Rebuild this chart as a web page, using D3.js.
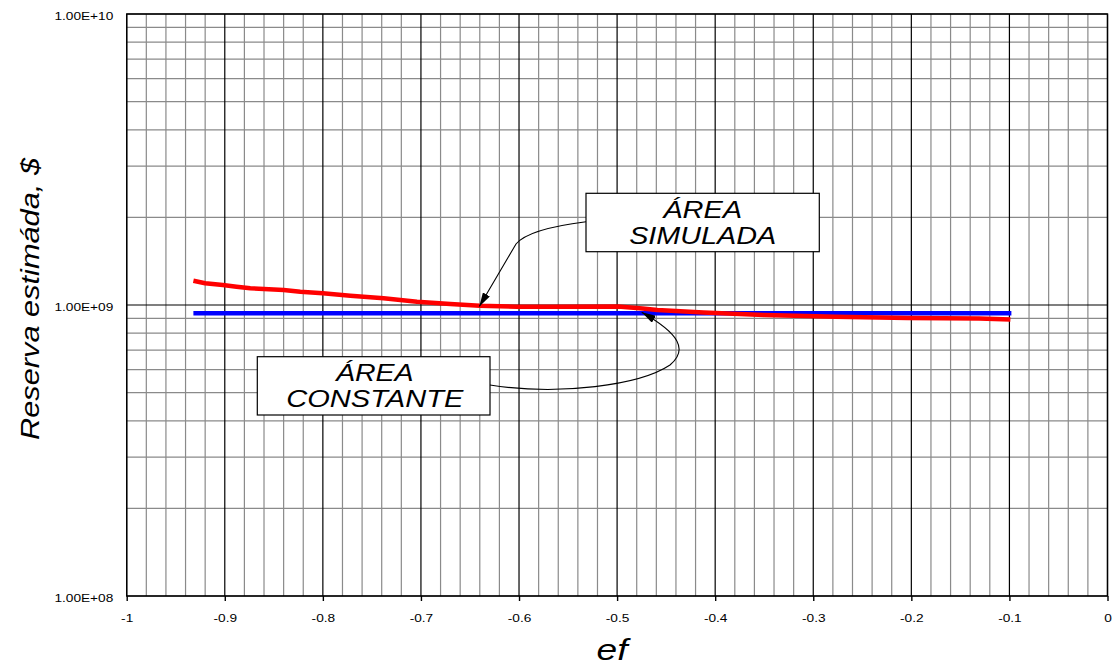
<!DOCTYPE html>
<html><head><meta charset="utf-8">
<script src="https://cdn.jsdelivr.net/npm/d3@7"></script>
<style>body{margin:0;background:#fff} svg{display:block}</style>
</head><body>
<svg id="c" width="1115" height="669"></svg>
<script>
// ---- data ----
const xTickValues = [-1,-0.9,-0.8,-0.7,-0.6,-0.5,-0.4,-0.3,-0.2,-0.1,0];
const xTickLabels = ["-1","-0.9","-0.8","-0.7","-0.6","-0.5","-0.4","-0.3","-0.2","-0.1","0"];
const yTickValues = [1e8,1e9,1e10];
const yTickLabels = ["1.00E+08","1.00E+09","1.00E+10"];
const simuladaX = [-0.932,-0.920,-0.902,-0.888,-0.874,-0.840,-0.823,-0.800,-0.772,-0.738,-0.704,-0.670,-0.640,-0.602,-0.568,-0.499,-0.474,-0.459,-0.412,-0.350,-0.277,-0.204,-0.131,-0.099];
const simuladaY = [1.212e9,1.188e9,1.171e9,1.156e9,1.141e9,1.126e9,1.111e9,1.097e9,1.076e9,1.054e9,1.026e9,1.008e9,0.995e9,0.987e9,0.987e9,0.988e9,0.973e9,0.961e9,0.942e9,0.924e9,0.911e9,0.903e9,0.898e9,0.891e9];
const constanteX = [-0.932,-0.098];
const constanteY = [0.937e9,0.937e9];
const xTitle = "ef";
const yTitle = "Reserva estimáda, $";
const note1 = ["ÁREA","SIMULADA"];
const note2 = ["ÁREA","CONSTANTE"];

// ---- layout ----
const L = 126.7, R = 1107.5, T = 14, B = 596;
const svg = d3.select("#c");
const x = d3.scaleLinear().domain([-1,0]).range([L,R]);
const y = d3.scaleLog().domain([1e8,1e10]).range([B,T]);

// grid
const g = svg.append("g");
const minorX = d3.range(0,51).map(i => -1 + i*0.02).filter((d,i)=> i%5!==0);
g.selectAll(".mx").data(minorX).join("line")
  .attr("x1",d=>x(d)).attr("x2",d=>x(d)).attr("y1",T).attr("y2",B)
  .attr("stroke","#8a8a8a").attr("stroke-width",1.2);
const minorY = [];
[1e8,1e9].forEach(dec => { for (let k=2;k<=9;k++) minorY.push(dec*k); });
g.selectAll(".my").data(minorY).join("line")
  .attr("x1",L).attr("x2",R).attr("y1",d=>y(d)).attr("y2",d=>y(d))
  .attr("stroke","#8a8a8a").attr("stroke-width",1.2);
g.selectAll(".Mx").data(xTickValues).join("line")
  .attr("x1",d=>x(d)).attr("x2",d=>x(d)).attr("y1",T).attr("y2",B)
  .attr("stroke","#000").attr("stroke-width",1.2);
g.selectAll(".My").data(yTickValues).join("line")
  .attr("x1",L).attr("x2",R).attr("y1",d=>y(d)).attr("y2",d=>y(d))
  .attr("stroke","#000").attr("stroke-width",1.2);
svg.append("rect").attr("x",L).attr("y",T).attr("width",R-L).attr("height",B-T)
  .attr("fill","none").attr("stroke","#000").attr("stroke-width",1.4);

// axes
const xa = svg.append("g").attr("transform",`translate(0,${B})`)
  .call(d3.axisBottom(x).tickValues(xTickValues).tickSize(5).tickFormat((d,i)=>xTickLabels[i]));
xa.select(".domain").remove();
xa.selectAll("line").attr("stroke","#000").attr("stroke-width",1.4);
xa.selectAll("text").attr("y",26).attr("dy",null)
  .attr("font-family","'Liberation Sans', Arial, sans-serif").attr("font-size",11.6)
  .attr("fill","#000").attr("transform","scale(1.18,1)");

const ya = svg.append("g").attr("transform",`translate(${L},0)`)
  .call(d3.axisLeft(y).tickValues(yTickValues).tickSize(0).tickFormat((d,i)=>yTickLabels[i]));
ya.select(".domain").remove();
ya.selectAll("text").attr("x",-13.4/1.18).attr("y",5).attr("dy",null)
  .attr("font-family","'Liberation Sans', Arial, sans-serif").attr("font-size",11.6)
  .attr("fill","#000").attr("transform","scale(1.18,1)");

// titles
svg.append("text").attr("transform","translate(39.3,299) rotate(-90)")
  .attr("text-anchor","middle").attr("font-family","'Liberation Sans', Arial, sans-serif")
  .attr("font-style","italic").attr("font-size",25.5)
  .attr("textLength",282).attr("lengthAdjust","spacingAndGlyphs").text(yTitle);
svg.append("text").attr("x",612).attr("y",660)
  .attr("text-anchor","middle").attr("font-family","'Liberation Sans', Arial, sans-serif")
  .attr("font-style","italic").attr("font-size",29)
  .attr("textLength",31).attr("lengthAdjust","spacingAndGlyphs").text(xTitle);

// series
const line = d3.line().x(d=>x(d[0])).y(d=>y(d[1]));
svg.append("path").datum(constanteX.map((v,i)=>[v,constanteY[i]]))
  .attr("d",line).attr("fill","none").attr("stroke","#0000ff").attr("stroke-width",4.5);
svg.append("path").datum(simuladaX.map((v,i)=>[v,simuladaY[i]]))
  .attr("d",line).attr("fill","none").attr("stroke","#ff0000").attr("stroke-width",4.5)
  .attr("stroke-linejoin","round");

// annotations
const defs = svg.append("defs");
defs.append("marker").attr("id","ah").attr("markerUnits","userSpaceOnUse")
  .attr("markerWidth",14).attr("markerHeight",8).attr("refX",14).attr("refY",4)
  .attr("orient","auto").append("path").attr("d","M0,0 L14,4 L0,8 Z").attr("fill","#000");

svg.append("path").attr("d","M586,221.7 Q528,229 516,244 L479.3,306.5")
  .attr("fill","none").attr("stroke","#000").attr("stroke-width",1.1).attr("marker-end","url(#ah)");
svg.append("path").attr("d","M490,385 C560,396 640,385 670,365 C688,350 680,334 641.7,312.3")
  .attr("fill","none").attr("stroke","#000").attr("stroke-width",1.1).attr("marker-end","url(#ah)");

function box(x0,y0,w,h,lines,cx,bases,lens){
  svg.append("rect").attr("x",x0).attr("y",y0).attr("width",w).attr("height",h)
    .attr("fill","#fff").attr("stroke","#000").attr("stroke-width",1.2);
  lines.forEach((t,i)=>{
    svg.append("text").attr("x",cx).attr("y",bases[i]).attr("text-anchor","middle")
      .attr("font-family","'Liberation Sans', Arial, sans-serif").attr("font-style","italic")
      .attr("font-size",24.5).attr("textLength",lens[i]).attr("lengthAdjust","spacingAndGlyphs")
      .text(t);
  });
}
box(586,193.3,233.3,58.4,note1,702.7,[217.7,244.3],[79,147]);
box(257.3,356.7,232.7,58.3,note2,374.8,[380.7,407.3],[77.7,177]);
</script>
</body></html>
